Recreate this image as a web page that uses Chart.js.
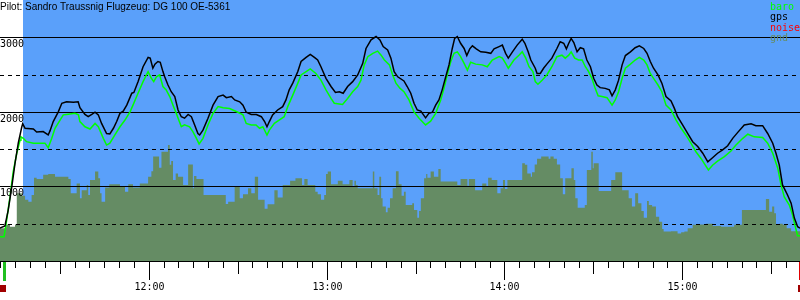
<!DOCTYPE html>
<html>
<head>
<meta charset="utf-8">
<title>Barogramm</title>
<script src="https://cdn.jsdelivr.net/npm/chart.js@4/dist/chart.umd.min.js"></script>
<style>
    html, body { margin: 0; padding: 0; background: #fff; }
    #wrap { width: 800px; height: 300px; }
</style>
</head>
<body>
<div id="wrap"><canvas id="chart" width="800" height="300"></canvas></div>
<script>
(function () {
    'use strict';

    // ── Daten (Zeit = Minuten nach 11:00, Höhe in m) ─────────────────────
    var TITLE = 'Pilot: Sandro Traussnig Flugzeug: DG 100 OE-5361';

    var hourTicks  = [60, 120, 180, 240];
    var hourLabels = ['12:00', '13:00', '14:00', '15:00'];
    var altSolid   = [1000, 2000, 3000];
    var altDashed  = [500, 1500, 2500];

    var legendNames  = ['baro', 'gps', 'noise', 'gnd'];
    var legendColors = ['#00ff00', '#000000', '#ff0000', '#658c64'];

    var flightStart = 17.6;          // Beginn blauer Bereich
    var startMark   = 11.2;          // grüne Marke
    var endMark     = 279.6;         // rote Marke
    var eventMarks  = [10.7, 280.0]; // dunkelrote Quadrate

    var gpsMin = [
        9.8, 11.5, 12.6, 13.8, 14.9, 16.0, 17.2, 17.5, 18.3, 21.1,
        22.2, 24.4, 26.1, 26.7, 27.8, 29.5, 30.7, 32.3, 34.6, 36.2,
        36.8, 38.5, 39.6, 40.8, 41.9, 43.0, 44.1, 45.8, 46.9, 48.1,
        49.2, 50.3, 51.4, 52.6, 54.3, 55.0, 56.4, 58.1, 59.8, 60.5,
        61.4, 62.1, 63.1, 63.9, 64.8, 65.4, 66.5, 67.6, 68.8, 69.9,
        71.0, 72.1, 73.3, 74.4, 75.5, 76.6, 77.2, 78.3, 80.0, 81.7,
        83.4, 85.1, 86.2, 87.9, 89.0, 90.7, 91.8, 92.9, 94.6, 96.3,
        98.0, 99.1, 99.9, 100.7, 101.8, 103.5, 105.2, 106.3, 107.4, 108.6,
        110.3, 111.4, 113.1, 114.5, 115.9, 117.0, 118.1, 119.8, 121.5, 123.0,
        124.3, 125.6, 127.1, 128.8, 130.5, 132.2, 133.3, 135.0, 136.7, 138.0,
        139.1, 140.6, 141.7, 142.8, 144.0, 146.1, 147.2, 148.4, 149.5, 150.6,
        151.8, 153.4, 154.5, 155.7, 156.8, 157.9, 159.0, 160.2, 161.3, 162.4,
        163.2, 164.1, 165.2, 166.4, 167.3, 168.3, 169.2, 170.5, 172.0, 173.7,
        175.4, 176.5, 178.2, 179.3, 180.4, 181.3, 182.7, 184.3, 186.0, 186.9,
        188.0, 188.9, 190.4, 191.0, 192.1, 193.2, 194.3, 196.0, 197.7, 198.8,
        200.0, 200.9, 201.7, 202.5, 203.4, 204.5, 205.6, 206.7, 207.8, 209.0,
        210.1, 211.2, 212.3, 214.0, 215.4, 216.3, 217.4, 218.5, 219.7, 220.8,
        222.5, 224.1, 225.5, 227.0, 228.1, 229.2, 230.3, 231.8, 233.1, 234.5,
        236.2, 237.3, 238.4, 240.1, 241.8, 243.5, 245.2, 246.9, 248.6, 250.2,
        251.9, 253.6, 255.3, 257.0, 258.7, 260.9, 263.2, 264.8, 267.1, 268.8,
        270.5, 271.6, 272.7, 273.8, 275.5, 276.7, 277.8, 278.9, 279.7
    ];
    var gpsAlt = [
        440, 470, 680, 990, 1310, 1580, 1800, 1840, 1780, 1770,
        1730, 1735, 1690, 1745, 1870, 2000, 2115, 2135, 2130, 2135,
        2055, 1965, 1935, 1965, 1995, 1960, 1845, 1710, 1705, 1780,
        1870, 1980, 2010, 2090, 2250, 2260, 2405, 2605, 2730, 2720,
        2585, 2640, 2675, 2665, 2540, 2470, 2360, 2270, 2205, 2025,
        1935, 1915, 1965, 1935, 1825, 1710, 1690, 1755, 1915, 2090,
        2205, 2225, 2190, 2205, 2160, 2135, 2090, 1995, 1965, 1965,
        1935, 1870, 1800, 1870, 1960, 2025, 2070, 2160, 2295, 2385,
        2540, 2675, 2730, 2770, 2730, 2695, 2605, 2450, 2340, 2260,
        2270, 2250, 2340, 2405, 2495, 2650, 2850, 2965, 3010, 2965,
        2875, 2830, 2720, 2540, 2470, 2415, 2340, 2250, 2115, 2025,
        2010, 1920, 1980, 1995, 2090, 2160, 2295, 2470, 2630, 2850,
        2985, 3010, 2920, 2850, 2755, 2845, 2885, 2845, 2805, 2800,
        2785, 2845, 2875, 2895, 2785, 2720, 2805, 2895, 2975, 2920,
        2805, 2695, 2585, 2515, 2515, 2585, 2640, 2720, 2850, 2940,
        2920, 2845, 2920, 2985, 2930, 2805, 2860, 2845, 2695, 2605,
        2450, 2360, 2325, 2315, 2295, 2215, 2295, 2425, 2630, 2755,
        2805, 2860, 2885, 2850, 2785, 2675, 2585, 2495, 2385, 2205,
        2145, 2050, 1935, 1825, 1710, 1600, 1535, 1445, 1330, 1385,
        1445, 1490, 1545, 1645, 1725, 1825, 1840, 1815, 1815, 1710,
        1580, 1445, 1290, 1020, 885, 775, 575, 460, 440
    ];

    var baroMin = [
        9.8, 11.2, 12.1, 13.2, 14.3, 15.5, 16.6, 16.9, 17.7, 18.8,
        21.1, 23.3, 25.0, 26.1, 27.3, 28.4, 30.1, 31.2, 32.3, 35.1,
        36.3, 36.8, 38.5, 40.2, 41.9, 43.0, 44.7, 45.8, 46.9, 48.6,
        50.3, 52.0, 53.7, 54.7, 56.4, 58.1, 59.8, 60.9, 61.7, 62.6,
        63.7, 64.8, 65.9, 67.1, 68.2, 69.3, 71.0, 72.1, 73.8, 74.9,
        76.1, 77.0, 78.3, 80.0, 81.7, 83.4, 85.1, 87.3, 88.4, 90.1,
        91.8, 92.9, 94.6, 96.2, 97.4, 98.5, 99.9, 100.7, 102.4, 104.0,
        105.7, 106.9, 108.6, 110.3, 111.4, 113.1, 114.5, 116.4, 118.1, 119.8,
        121.5, 122.6, 125.4, 127.1, 128.8, 130.5, 131.6, 132.7, 133.9, 135.6,
        137.2, 138.4, 139.5, 141.2, 142.3, 143.4, 144.8, 146.1, 147.8, 149.5,
        151.2, 153.4, 155.1, 156.8, 158.5, 159.6, 160.7, 161.9, 163.0, 164.1,
        165.2, 166.4, 167.5, 168.6, 170.3, 172.5, 174.2, 175.9, 178.2, 179.3,
        180.4, 181.3, 183.2, 184.9, 186.0, 187.2, 188.3, 189.6, 190.4, 191.3,
        192.7, 194.3, 196.0, 197.7, 199.4, 200.5, 201.7, 202.5, 203.7, 205.0,
        206.2, 207.3, 208.4, 209.5, 210.6, 211.6, 212.9, 214.6, 216.3, 217.4,
        218.5, 219.7, 220.8, 222.5, 224.1, 225.5, 227.0, 228.1, 229.2, 230.3,
        231.8, 233.1, 234.5, 236.2, 237.9, 239.6, 241.2, 242.9, 244.6, 246.3,
        248.8, 250.2, 251.9, 254.2, 256.4, 258.1, 260.4, 262.1, 264.3, 267.1,
        268.8, 270.5, 272.2, 273.3, 274.4, 276.1, 277.2, 278.4, 278.9, 279.7
    ];
    var baroAlt = [
        325, 325, 550, 860, 1200, 1445, 1620, 1665, 1645, 1600,
        1580, 1580, 1580, 1520, 1645, 1780, 1890, 1960, 1965, 1980,
        1960, 1870, 1800, 1770, 1845, 1800, 1645, 1555, 1580, 1690,
        1800, 1890, 2000, 2090, 2250, 2405, 2540, 2450, 2405, 2470,
        2495, 2340, 2295, 2205, 2090, 1980, 1800, 1825, 1800, 1735,
        1645, 1570, 1645, 1825, 1980, 2070, 2055, 2045, 2025, 1995,
        1960, 1845, 1825, 1825, 1780, 1800, 1690, 1755, 1845, 1890,
        1935, 2070, 2225, 2385, 2495, 2540, 2575, 2515, 2425, 2295,
        2180, 2115, 2100, 2180, 2270, 2340, 2425, 2630, 2740, 2785,
        2815, 2760, 2695, 2630, 2495, 2385, 2315, 2270, 2160, 2000,
        1915, 1825, 1875, 1980, 2160, 2315, 2495, 2675, 2785, 2805,
        2740, 2650, 2560, 2665, 2640, 2630, 2605, 2695, 2740, 2720,
        2650, 2585, 2695, 2760, 2805, 2720, 2605, 2540, 2405, 2370,
        2425, 2495, 2605, 2740, 2760, 2720, 2760, 2805, 2720, 2695,
        2695, 2605, 2540, 2450, 2315, 2215, 2205, 2190, 2090, 2160,
        2270, 2450, 2585, 2640, 2695, 2730, 2695, 2630, 2515, 2450,
        2360, 2270, 2090, 2025, 1890, 1780, 1690, 1580, 1465, 1375,
        1220, 1285, 1340, 1400, 1475, 1555, 1645, 1700, 1665, 1655,
        1580, 1445, 1245, 1020, 860, 750, 615, 415, 340, 340
    ];

    // Geländehöhe, Stufen (Beginn jeder Stufe)
    var gndMin = [
        9.8, 11.9, 13.2, 14.9, 15.5, 17.2, 18.3, 19.4, 20.5, 21.3,
        22.2, 24.4, 26.1, 28.4, 32.9, 33.7, 35.7, 36.8, 37.4, 39.1,
        39.6, 40.2, 41.9, 43.0, 43.6, 44.1, 45.3, 46.7, 50.3, 52.0,
        53.1, 54.7, 57.0, 59.8, 60.9, 61.5, 63.5, 64.3, 66.5, 67.1,
        67.6, 68.2, 69.1, 69.9, 71.6, 73.3, 74.9, 75.3, 76.1, 78.5,
        86.0, 86.8, 89.0, 90.7, 91.8, 93.5, 94.6, 95.8, 96.9, 99.1,
        100.1, 102.4, 103.5, 105.2, 107.7, 109.5, 111.7, 112.5, 113.6, 116.2,
        117.0, 118.1, 119.2, 119.8, 120.4, 121.5, 123.8, 125.4, 127.7, 128.8,
        129.4, 129.9, 130.5, 135.6, 136.1, 137.2, 137.8, 138.4, 138.9, 140.0,
        140.6, 141.4, 142.3, 143.4, 144.3, 145.3, 146.1, 146.7, 148.9, 149.5,
        150.6, 151.2, 151.8, 152.9, 153.6, 154.0, 155.1, 156.2, 157.7, 158.5,
        164.1, 165.2, 167.5, 168.0, 170.1, 172.5, 173.9, 174.5, 175.7, 177.6,
        178.7, 179.5, 180.2, 181.0, 186.0, 186.9, 187.7, 188.9, 189.3, 190.2,
        191.0, 192.4, 194.9, 195.5, 196.6, 197.7, 198.8, 199.7, 200.5, 202.6,
        203.4, 203.9, 204.7, 207.1, 207.8, 209.3, 209.8, 210.1, 211.8, 216.0,
        217.4, 219.7, 221.9, 223.0, 224.1, 225.1, 226.2, 227.0, 228.1, 228.7,
        229.8, 231.1, 232.2, 233.2, 233.7, 236.2, 238.4, 239.6, 240.7, 241.8,
        243.5, 245.2, 248.0, 250.3, 253.1, 257.5, 260.1, 268.2, 269.3, 270.3,
        271.0, 271.6, 272.7, 273.9, 275.2, 276.7, 278.4, 279.7
    ];
    var gndAlt = [
        415, 440, 490, 460, 490, 910, 875, 820, 795, 885,
        1115, 1100, 1155, 1165, 1130, 1100, 910, 1040, 840, 950,
        1020, 885, 1085, 1200, 1110, 910, 795, 985, 1030, 995,
        930, 1030, 985, 1040, 1130, 1205, 1400, 1250, 1465, 1555,
        1290, 1340, 1085, 1175, 1130, 1020, 1295, 975, 1140, 1100,
        885, 765, 795, 995, 840, 895, 975, 910, 1130, 820,
        700, 760, 950, 850, 1020, 1075, 1110, 1020, 1100, 1020,
        930, 895, 820, 885, 1165, 1200, 1030, 1075, 1030, 1085,
        995, 1075, 1020, 975, 1200, 975, 885, 1130, 840, 730,
        655, 715, 840, 975, 1205, 1030, 875, 930, 750, 775,
        685, 580, 670, 840, 1110, 1165, 1115, 1200, 1130, 1235,
        1065, 1020, 1100, 1010, 1100, 950, 1040, 995, 1115, 1085,
        910, 975, 1085, 965, 1085, 1310, 1290, 1175, 1130, 1190,
        1295, 1370, 1400, 1370, 1400, 1370, 1295, 1110, 895, 1110,
        1245, 1085, 840, 715, 750, 1220, 1465, 1245, 1310, 940,
        1085, 1190, 950, 840, 730, 910, 775, 670, 580, 805,
        750, 730, 595, 525, 430, 395, 400, 370, 385, 395,
        440, 485, 490, 500, 470, 460, 485, 685, 830, 660,
        730, 640, 490, 500, 485, 440, 400, 400
    ];

    // ── Hilfsfunktionen ──────────────────────────────────────────────────
    function pts(xs, ys) {
        return xs.map(function (x, i) { return { x: x, y: ys[i] }; });
    }

    var MONO = '10px "DejaVu Sans Mono", monospace';
    var SANS = '10px "Liberation Sans", Arial, sans-serif';

    // ── Hintergrund, Gitter, Achse, Texte ────────────────────────────────
    var decor = {
        id: 'decor',
        beforeDraw: function (chart) {
            var c = chart.ctx, a = chart.chartArea, xs = chart.scales.x;
            c.save();
            c.fillStyle = '#ffffff';
            c.fillRect(0, 0, chart.width, chart.height);
            var x0 = Math.round(xs.getPixelForValue(flightStart));
            c.fillStyle = '#5aa0fa';
            c.fillRect(x0, a.top, a.right - x0, a.bottom - a.top);
            c.restore();
        },
        afterDatasetDraw: function (chart, args) {
            if (args.index !== 2) return;   // Gitter über dem Gelände, unter den Linien
            var c = chart.ctx, a = chart.chartArea, ys = chart.scales.y;
            c.save();
            c.strokeStyle = '#000';
            c.lineWidth = 1;
            altSolid.forEach(function (v) {
                var y = Math.round(ys.getPixelForValue(v)) + 0.5;
                c.beginPath(); c.moveTo(a.left, y); c.lineTo(a.right, y); c.stroke();
            });
            c.setLineDash([4, 4]);
            altDashed.forEach(function (v) {
                var y = Math.round(ys.getPixelForValue(v)) + 0.5;
                c.beginPath(); c.moveTo(a.left, y); c.lineTo(a.right, y); c.stroke();
            });
            c.restore();
        },
        afterDraw: function (chart) {
            var c = chart.ctx, a = chart.chartArea, xs = chart.scales.x, ys = chart.scales.y;
            var base = Math.round(a.bottom);
            c.save();

            // Zeitachse
            c.strokeStyle = '#000';
            c.lineWidth = 1;
            c.beginPath(); c.moveTo(a.left, base + 0.5); c.lineTo(a.right, base + 0.5); c.stroke();
            for (var m = 10; m <= 275; m += 5) {
                var tx = Math.round(xs.getPixelForValue(m)) + 0.5;
                var len = (m % 60 === 0) ? 18 : (m % 30 === 0 ? 12 : 6);
                c.beginPath(); c.moveTo(tx, base + 1); c.lineTo(tx, base + 1 + len); c.stroke();
            }

            c.fillStyle = '#000';
            c.font = MONO;
            c.textAlign = 'center';
            c.textBaseline = 'alphabetic';
            hourTicks.forEach(function (m, i) {
                c.fillText(hourLabels[i], Math.round(xs.getPixelForValue(m)) + 0.5, base + 29);
            });

            // Höhenbeschriftung
            c.textAlign = 'left';
            altSolid.forEach(function (v) {
                c.fillText(String(v), 0, Math.round(ys.getPixelForValue(v)) + 9.5);
            });

            // Marken
            var sx = xs.getPixelForValue(startMark);
            c.fillStyle = '#20c020';
            c.fillRect(Math.round(sx) - 1, base + 1, 3, 19);
            var ex = xs.getPixelForValue(endMark);
            c.fillStyle = '#e00000';
            c.fillRect(Math.round(ex) - 1, base + 1, 3, 18);
            c.fillStyle = '#a00000';
            eventMarks.forEach(function (m) {
                var px = Math.round(xs.getPixelForValue(m));
                c.fillRect(px - 3, base + 24, 6, 7);
            });

            // Titel
            c.fillStyle = '#000';
            c.font = SANS;
            c.fillText(TITLE, 0, 10);

            // Legende
            c.font = MONO;
            legendNames.forEach(function (n, i) {
                c.fillStyle = legendColors[i];
                c.fillText(n, 770, 10 + i * 10.3);
            });
            c.restore();
        }
    };

    // ── Chart ────────────────────────────────────────────────────────────
    new Chart(document.getElementById('chart').getContext('2d'), {
        type: 'line',
        data: {
            datasets: [
                {
                    label: 'gps',
                    data: pts(gpsMin, gpsAlt),
                    borderColor: '#000000',
                    borderWidth: 1.5,
                    pointRadius: 0,
                    tension: 0,
                    fill: false
                },
                {
                    label: 'baro',
                    data: pts(baroMin, baroAlt),
                    borderColor: '#00ff00',
                    borderWidth: 1.5,
                    pointRadius: 0,
                    tension: 0,
                    fill: false
                },
                {
                    label: 'gnd',
                    data: pts(gndMin, gndAlt),
                    borderWidth: 0,
                    borderColor: 'rgba(0,0,0,0)',
                    backgroundColor: '#658c64',
                    pointRadius: 0,
                    stepped: 'after',
                    fill: 'origin'
                }
            ]
        },
        options: {
            responsive: false,
            animation: false,
            events: [],
            layout: { padding: { left: 0, right: 0, top: 0, bottom: 39 } },
            scales: {
                x: { type: 'linear', display: false, min: 9.84, max: 279.7 },
                y: { display: false, min: 0, max: 3500 }
            },
            plugins: {
                legend: { display: false },
                tooltip: { enabled: false }
            }
        },
        plugins: [decor]
    });
})();
</script>
</body>
</html>
